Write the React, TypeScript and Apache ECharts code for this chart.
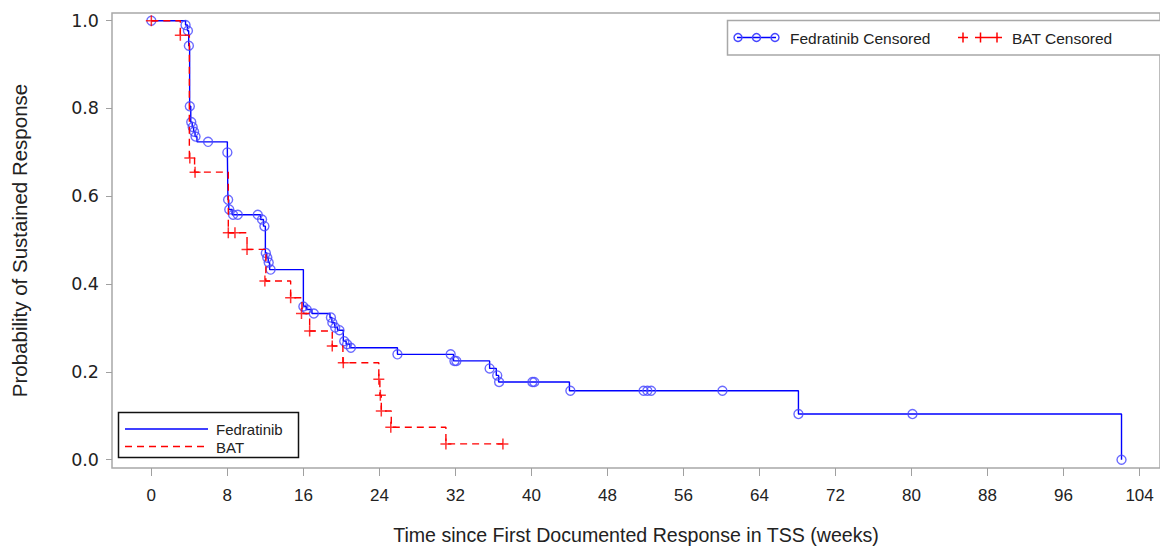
import React, { useEffect, useRef } from "react";
import * as echarts from "echarts";

const xTicks = [0, 8, 16, 24, 32, 40, 48, 56, 64, 72, 80, 88, 96, 104];
const yTicks = [0, 0.2, 0.4, 0.6, 0.8, 1.0];

// Fedratinib Kaplan-Meier step curve (time in weeks, survival)
const fedStepT = [0, 3.6, 3.8, 3.93, 4.03, 4.15, 4.3, 4.45, 4.6, 4.8, 8.0, 8.06, 8.15, 8.5, 11.5, 11.8, 12.0, 12.15, 12.3, 12.45, 16.0, 16.3, 16.9, 18.8, 19.0, 19.3, 19.6, 20.2, 20.5, 20.9, 25.9, 31.8, 35.6, 36.3, 36.55, 44.0, 68.1, 102.1];
const fedStepS = [1.0, 0.99, 0.977, 0.943, 0.805, 0.769, 0.758, 0.747, 0.736, 0.724, 0.7, 0.592, 0.57, 0.558, 0.547, 0.532, 0.471, 0.46, 0.449, 0.433, 0.349, 0.342, 0.333, 0.324, 0.312, 0.301, 0.295, 0.27, 0.263, 0.255, 0.24, 0.225, 0.208, 0.192, 0.177, 0.157, 0.104, 0.0];
// Fedratinib censored
const fedCensT = [0, 3.6, 3.85, 3.95, 4.05, 4.2, 4.35, 4.5, 4.65, 5.97, 8.0, 8.08, 8.2, 8.6, 9.1, 11.2, 11.65, 11.9, 12.05, 12.2, 12.35, 12.55, 16.0, 16.35, 17.1, 18.9, 19.05, 19.35, 19.8, 20.3, 20.6, 21.0, 25.9, 31.5, 31.9, 32.1, 35.6, 36.4, 36.6, 40.1, 40.3, 44.1, 51.8, 52.2, 52.6, 60.1, 68.1, 80.1, 102.1];
const fedCensS = [1.0, 0.99, 0.977, 0.943, 0.805, 0.769, 0.758, 0.747, 0.736, 0.724, 0.7, 0.592, 0.57, 0.558, 0.558, 0.558, 0.547, 0.532, 0.471, 0.46, 0.449, 0.433, 0.349, 0.342, 0.333, 0.324, 0.312, 0.301, 0.295, 0.27, 0.263, 0.255, 0.24, 0.24, 0.225, 0.225, 0.208, 0.192, 0.177, 0.177, 0.177, 0.157, 0.157, 0.157, 0.157, 0.157, 0.104, 0.104, 0.0];

// BAT Kaplan-Meier step curve
const batStepT = [0, 3.05, 4.0, 4.55, 8.1, 10.07, 12.05, 14.66, 15.85, 16.66, 19.04, 20.16, 23.94, 24.05, 24.2, 25.25, 31.0, 37.0];
const batStepS = [1.0, 0.967, 0.687, 0.655, 0.517, 0.479, 0.407, 0.369, 0.333, 0.293, 0.259, 0.221, 0.183, 0.147, 0.111, 0.074, 0.036, 0.036];
// BAT censored
const batCensT = [0, 3.05, 4.05, 4.6, 8.1, 8.8, 10.07, 11.95, 14.66, 15.8, 16.66, 19.04, 20.2, 23.94, 24.1, 24.2, 25.2, 31.0, 37.0];
const batCensS = [1.0, 0.967, 0.687, 0.655, 0.517, 0.517, 0.479, 0.407, 0.369, 0.333, 0.293, 0.259, 0.221, 0.183, 0.147, 0.111, 0.074, 0.036, 0.036];

const zip = (a: number[], b: number[]) => a.map((v, i) => [v, b[i]]);

const TEXT = "#222";
const BLUE = "#0000ff";
const CIRCLE = "#4646ff";
const RED = "#ff0000";
const FONT = "Liberation Sans, Arial, sans-serif";

export default function App() {
  const ref = useRef<HTMLDivElement>(null);
  useEffect(() => {
    const chart = echarts.init(ref.current!, null, { renderer: "svg" });
    const crossPath = "path://M0,5L10,5M5,0L5,10";
    chart.setOption({
      animation: false,
      backgroundColor: "#fff",
      grid: {
        left: 112,
        top: 13,
        width: 1050,
        height: 456,
        show: true,
        borderColor: "#a8a8a8",
        borderWidth: 1.5,
        backgroundColor: "transparent",
        containLabel: false,
      },
      xAxis: {
        type: "value",
        min: -4.14,
        max: 106.15,
        axisLine: { show: false, onZero: false },
        splitLine: { show: false },
        axisTick: { show: true, customValues: xTicks, length: 8, lineStyle: { color: "#a0a0a0", width: 1 } },
        axisLabel: {
          customValues: xTicks,
          margin: 19,
          fontFamily: FONT,
          fontSize: 17,
          color: TEXT,
        },
        name: "Time since First Documented Response in TSS (weeks)",
        nameLocation: "middle",
        nameGap: 57,
        nameTextStyle: {
          fontFamily: FONT,
          fontSize: 19.6,
          color: TEXT,
        },
      },
      yAxis: {
        type: "value",
        min: -0.0189,
        max: 1.0175,
        axisLine: { show: false, onZero: false },
        splitLine: { show: false },
        axisTick: { show: true, customValues: yTicks, length: 6, lineStyle: { color: "#a0a0a0", width: 1 } },
        axisLabel: {
          customValues: yTicks,
          margin: 13,
          formatter: (v: number) => v.toFixed(1),
          fontFamily: "DejaVu Sans, sans-serif",
          fontSize: 17.5,
          color: TEXT,
        },
        name: "Probability of Sustained Response",
        nameLocation: "middle",
        nameGap: 82,
        nameTextStyle: {
          fontFamily: FONT,
          fontSize: 20.5,
          color: TEXT,
        },
      },
      series: [
        {
          name: "Fedratinib",
          type: "line",
          step: "end",
          data: zip(fedStepT, fedStepS),
          symbol: "none",
          showSymbol: false,
          lineStyle: { color: BLUE, width: 1.4 },
          silent: true,
          z: 2,
        },
        {
          name: "Fedratinib Censored",
          type: "scatter",
          data: zip(fedCensT, fedCensS),
          symbol: "circle",
          symbolSize: 9,
          itemStyle: { color: "rgba(0,0,0,0)", borderColor: CIRCLE, borderWidth: 1.4 },
          silent: true,
          z: 3,
        },
        {
          name: "BAT",
          type: "line",
          step: "end",
          data: zip(batStepT, batStepS),
          symbol: "none",
          showSymbol: false,
          lineStyle: { color: RED, width: 1.4, type: [7, 5] },
          silent: true,
          z: 4,
        },
        {
          name: "BAT Censored",
          type: "scatter",
          data: zip(batCensT, batCensS),
          symbol: crossPath,
          symbolSize: 11,
          itemStyle: { color: "none", borderColor: RED, borderWidth: 1.5 },
          silent: true,
          z: 5,
        },
      ],
      graphic: [
        // top-right censored legend
        {
          type: "group",
          z: 100,
          children: [
            { type: "rect", shape: { x: 727.5, y: 20.5, width: 460, height: 34.5 }, style: { fill: "#fff", stroke: "#a8a8a8", lineWidth: 1.5 } },
            { type: "line", shape: { x1: 737, y1: 37.5, x2: 776, y2: 37.5 }, style: { stroke: BLUE, lineWidth: 1.3 } },
            { type: "circle", shape: { cx: 738, cy: 37.5, r: 4 }, style: { fill: "none", stroke: CIRCLE, lineWidth: 1.4 } },
            { type: "circle", shape: { cx: 756.5, cy: 37.5, r: 4 }, style: { fill: "none", stroke: CIRCLE, lineWidth: 1.4 } },
            { type: "circle", shape: { cx: 775, cy: 37.5, r: 4 }, style: { fill: "none", stroke: CIRCLE, lineWidth: 1.4 } },
            { type: "text", x: 790, y: 38, style: { text: "Fedratinib Censored", fontFamily: FONT, fontSize: 15.5, fill: TEXT, verticalAlign: "middle", align: "left" } },
            { type: "line", shape: { x1: 958, y1: 37.5, x2: 968, y2: 37.5 }, style: { stroke: RED, lineWidth: 1.5 } },
            { type: "line", shape: { x1: 963, y1: 32.5, x2: 963, y2: 42.5 }, style: { stroke: RED, lineWidth: 1.5 } },
            { type: "line", shape: { x1: 975, y1: 37.5, x2: 986, y2: 37.5 }, style: { stroke: RED, lineWidth: 1.5 } },
            { type: "line", shape: { x1: 980.5, y1: 32.5, x2: 980.5, y2: 42.5 }, style: { stroke: RED, lineWidth: 1.5 } },
            { type: "line", shape: { x1: 986, y1: 37.5, x2: 1002, y2: 37.5 }, style: { stroke: RED, lineWidth: 1.5 } },
            { type: "line", shape: { x1: 997, y1: 32.5, x2: 997, y2: 42.5 }, style: { stroke: RED, lineWidth: 1.5 } },
            { type: "text", x: 1012, y: 38, style: { text: "BAT Censored", fontFamily: FONT, fontSize: 15.5, fill: TEXT, verticalAlign: "middle", align: "left" } },
          ],
        },
        // bottom-left line legend
        {
          type: "group",
          z: 100,
          children: [
            { type: "rect", shape: { x: 118.5, y: 412.5, width: 180, height: 45 }, style: { fill: "#fff", stroke: "#111", lineWidth: 1.5 } },
            { type: "line", shape: { x1: 125, y1: 429, x2: 208, y2: 429 }, style: { stroke: BLUE, lineWidth: 1.4 } },
            { type: "text", x: 216, y: 429, style: { text: "Fedratinib", fontFamily: FONT, fontSize: 15, fill: TEXT, verticalAlign: "middle", align: "left" } },
            { type: "line", shape: { x1: 125, y1: 446.5, x2: 208, y2: 446.5 }, style: { stroke: RED, lineWidth: 1.4, lineDash: [7, 5] } },
            { type: "text", x: 216, y: 447, style: { text: "BAT", fontFamily: FONT, fontSize: 15, fill: TEXT, verticalAlign: "middle", align: "left" } },
          ],
        },
      ],
    });
    return () => chart.dispose();
  }, []);
  return (
    <div
      ref={ref}
      style={{ position: "absolute", left: 0, top: 0, width: 1160, height: 550, background: "#fff" }}
    />
  );
}
